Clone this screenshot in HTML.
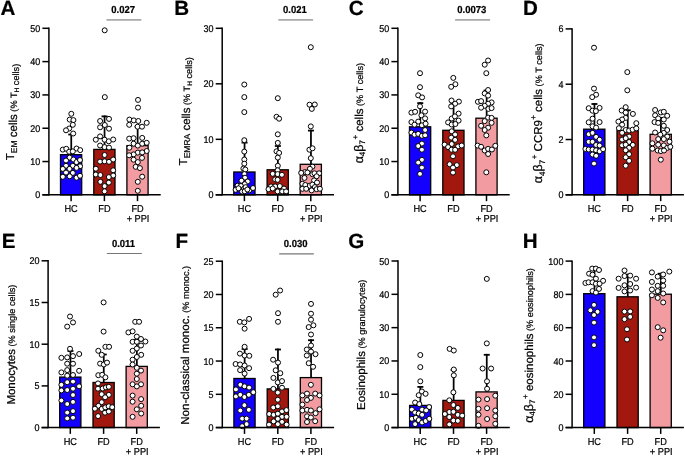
<!DOCTYPE html>
<html><head><meta charset="utf-8"><style>
html,body{margin:0;padding:0;background:#fff;}
svg{display:block;}
text{stroke:#000;stroke-width:0.22;}
svg{will-change:transform;text-rendering:geometricPrecision;font-family:"Liberation Sans",sans-serif;}
circle{fill:#fff;stroke:#000;stroke-width:1.0;}
</style></head><body>
<svg width="685" height="456" viewBox="0 0 685 456">
<line x1="71.25" y1="154.70" x2="71.25" y2="133.60" stroke="#000" stroke-width="1.75"/>
<line x1="68.25" y1="134.50" x2="74.25" y2="134.50" stroke="#000" stroke-width="1.8"/>
<rect x="60.50" y="154.70" width="21.20" height="40.15" fill="rgb(20,0,255)" stroke="#000" stroke-width="1.3"/>
<line x1="104.55" y1="149.40" x2="104.55" y2="115.50" stroke="#000" stroke-width="1.75"/>
<line x1="101.55" y1="116.40" x2="107.55" y2="116.40" stroke="#000" stroke-width="1.8"/>
<rect x="93.80" y="149.40" width="21.20" height="45.45" fill="rgb(163,24,14)" stroke="#000" stroke-width="1.3"/>
<line x1="137.65" y1="145.60" x2="137.65" y2="125.60" stroke="#000" stroke-width="1.75"/>
<line x1="134.65" y1="126.50" x2="140.65" y2="126.50" stroke="#000" stroke-width="1.8"/>
<rect x="126.90" y="145.60" width="21.20" height="49.25" fill="rgb(242,155,160)" stroke="#000" stroke-width="1.3"/>
<circle cx="71.3" cy="113.8" r="2.5"/>
<circle cx="69.7" cy="119.6" r="2.5"/>
<circle cx="73.4" cy="120.1" r="2.5"/>
<circle cx="72.8" cy="124.8" r="2.5"/>
<circle cx="69.2" cy="128.5" r="2.5"/>
<circle cx="66.0" cy="130.3" r="2.5"/>
<circle cx="73.2" cy="133.5" r="2.5"/>
<circle cx="62.8" cy="149.6" r="2.5"/>
<circle cx="66.3" cy="148.8" r="2.5"/>
<circle cx="76.5" cy="148.5" r="2.5"/>
<circle cx="80.2" cy="150.1" r="2.5"/>
<circle cx="69.2" cy="151.7" r="2.5"/>
<circle cx="72.8" cy="151.4" r="2.5"/>
<circle cx="69.7" cy="157.6" r="2.5"/>
<circle cx="73.4" cy="159.5" r="2.5"/>
<circle cx="66.0" cy="160.5" r="2.5"/>
<circle cx="76.5" cy="162.1" r="2.5"/>
<circle cx="80.0" cy="160.0" r="2.5"/>
<circle cx="66.0" cy="165.8" r="2.5"/>
<circle cx="72.8" cy="165.8" r="2.5"/>
<circle cx="80.0" cy="166.3" r="2.5"/>
<circle cx="76.5" cy="167.9" r="2.5"/>
<circle cx="62.8" cy="168.9" r="2.5"/>
<circle cx="69.5" cy="168.9" r="2.5"/>
<circle cx="66.0" cy="172.6" r="2.5"/>
<circle cx="72.8" cy="172.9" r="2.5"/>
<circle cx="62.8" cy="176.8" r="2.5"/>
<circle cx="69.7" cy="176.3" r="2.5"/>
<circle cx="76.5" cy="177.7" r="2.5"/>
<circle cx="80.0" cy="175.8" r="2.5"/>
<circle cx="104.7" cy="30.3" r="2.5"/>
<circle cx="104.8" cy="97.1" r="2.5"/>
<circle cx="109.0" cy="118.9" r="2.5"/>
<circle cx="100.1" cy="121.0" r="2.5"/>
<circle cx="104.8" cy="125.0" r="2.5"/>
<circle cx="100.1" cy="127.3" r="2.5"/>
<circle cx="109.0" cy="128.7" r="2.5"/>
<circle cx="100.1" cy="136.4" r="2.5"/>
<circle cx="95.8" cy="139.7" r="2.5"/>
<circle cx="104.6" cy="139.7" r="2.5"/>
<circle cx="108.8" cy="141.3" r="2.5"/>
<circle cx="113.2" cy="139.5" r="2.5"/>
<circle cx="100.1" cy="145.5" r="2.5"/>
<circle cx="104.6" cy="147.1" r="2.5"/>
<circle cx="109.0" cy="147.6" r="2.5"/>
<circle cx="104.6" cy="155.0" r="2.5"/>
<circle cx="100.1" cy="161.6" r="2.5"/>
<circle cx="104.6" cy="161.3" r="2.5"/>
<circle cx="109.0" cy="161.8" r="2.5"/>
<circle cx="113.2" cy="159.5" r="2.5"/>
<circle cx="95.8" cy="168.7" r="2.5"/>
<circle cx="113.2" cy="170.3" r="2.5"/>
<circle cx="95.8" cy="174.5" r="2.5"/>
<circle cx="100.4" cy="175.0" r="2.5"/>
<circle cx="113.2" cy="175.5" r="2.5"/>
<circle cx="108.8" cy="177.1" r="2.5"/>
<circle cx="100.4" cy="181.8" r="2.5"/>
<circle cx="108.8" cy="182.6" r="2.5"/>
<circle cx="104.6" cy="186.1" r="2.5"/>
<circle cx="104.6" cy="191.3" r="2.5"/>
<circle cx="138.0" cy="99.9" r="2.5"/>
<circle cx="138.0" cy="107.6" r="2.5"/>
<circle cx="129.4" cy="119.6" r="2.5"/>
<circle cx="133.8" cy="120.4" r="2.5"/>
<circle cx="138.3" cy="121.0" r="2.5"/>
<circle cx="146.7" cy="122.8" r="2.5"/>
<circle cx="129.2" cy="124.8" r="2.5"/>
<circle cx="137.6" cy="126.7" r="2.5"/>
<circle cx="142.0" cy="126.7" r="2.5"/>
<circle cx="129.2" cy="138.6" r="2.5"/>
<circle cx="133.6" cy="138.2" r="2.5"/>
<circle cx="142.2" cy="137.9" r="2.5"/>
<circle cx="133.6" cy="143.7" r="2.5"/>
<circle cx="137.8" cy="145.6" r="2.5"/>
<circle cx="142.2" cy="143.7" r="2.5"/>
<circle cx="146.7" cy="142.8" r="2.5"/>
<circle cx="129.4" cy="147.7" r="2.5"/>
<circle cx="146.7" cy="151.0" r="2.5"/>
<circle cx="137.8" cy="152.6" r="2.5"/>
<circle cx="142.2" cy="152.4" r="2.5"/>
<circle cx="133.6" cy="154.4" r="2.5"/>
<circle cx="129.2" cy="155.3" r="2.5"/>
<circle cx="142.0" cy="157.9" r="2.5"/>
<circle cx="133.6" cy="159.7" r="2.5"/>
<circle cx="137.8" cy="162.1" r="2.5"/>
<circle cx="135.7" cy="166.8" r="2.5"/>
<circle cx="139.9" cy="168.1" r="2.5"/>
<circle cx="142.2" cy="176.7" r="2.5"/>
<circle cx="137.8" cy="181.8" r="2.5"/>
<circle cx="137.8" cy="190.8" r="2.5"/>
<line x1="48.90" y1="27.60" x2="48.90" y2="195.55" stroke="#000" stroke-width="1.5"/>
<line x1="42.40" y1="194.85" x2="160.70" y2="194.85" stroke="#000" stroke-width="1.5"/>
<line x1="42.40" y1="194.85" x2="48.90" y2="194.85" stroke="#000" stroke-width="1.5"/>
<text transform="translate(40.20,198.35) scale(1,1.09)" font-size="9" text-anchor="end" font-weight="normal" >0</text>
<line x1="42.40" y1="161.54" x2="48.90" y2="161.54" stroke="#000" stroke-width="1.5"/>
<text transform="translate(40.20,165.04) scale(1,1.09)" font-size="9" text-anchor="end" font-weight="normal" >10</text>
<line x1="42.40" y1="128.23" x2="48.90" y2="128.23" stroke="#000" stroke-width="1.5"/>
<text transform="translate(40.20,131.73) scale(1,1.09)" font-size="9" text-anchor="end" font-weight="normal" >20</text>
<line x1="42.40" y1="94.92" x2="48.90" y2="94.92" stroke="#000" stroke-width="1.5"/>
<text transform="translate(40.20,98.42) scale(1,1.09)" font-size="9" text-anchor="end" font-weight="normal" >30</text>
<line x1="42.40" y1="61.61" x2="48.90" y2="61.61" stroke="#000" stroke-width="1.5"/>
<text transform="translate(40.20,65.11) scale(1,1.09)" font-size="9" text-anchor="end" font-weight="normal" >40</text>
<line x1="42.40" y1="28.30" x2="48.90" y2="28.30" stroke="#000" stroke-width="1.5"/>
<text transform="translate(40.20,31.80) scale(1,1.09)" font-size="9" text-anchor="end" font-weight="normal" >50</text>
<line x1="71.10" y1="194.85" x2="71.10" y2="201.15" stroke="#000" stroke-width="1.5"/>
<text transform="translate(71.10,212.35) scale(1,1.09)" font-size="9.2" text-anchor="middle" font-weight="normal" >HC</text>
<line x1="104.40" y1="194.85" x2="104.40" y2="201.15" stroke="#000" stroke-width="1.5"/>
<text transform="translate(104.40,212.35) scale(1,1.09)" font-size="9.2" text-anchor="middle" font-weight="normal" >FD</text>
<line x1="137.50" y1="194.85" x2="137.50" y2="201.15" stroke="#000" stroke-width="1.5"/>
<text transform="translate(137.50,212.35) scale(1,1.09)" font-size="9.2" text-anchor="middle" font-weight="normal" >FD</text>
<text transform="translate(138.00,222.35) scale(1,1.09)" font-size="9.2" text-anchor="middle" font-weight="normal" >+ PPI</text>
<text x="0.50" y="15.40" font-size="20.6" text-anchor="start" font-weight="bold" >A</text>
<line x1="106.50" y1="19.90" x2="141.40" y2="19.90" stroke="#aaa" stroke-width="1.6"/>
<text transform="translate(123.15,12.90) scale(1,1.07)" font-size="9.5" text-anchor="middle" font-weight="bold" >0.027</text>
<text transform="translate(13.7,111.95) rotate(-90)" text-anchor="middle" font-size="11.5">T<tspan font-size="8.5" dy="2.8">EM</tspan><tspan dy="-2.8"></tspan> cells<tspan font-size="9.2"> (% T<tspan font-size="6.5" dy="2">H</tspan><tspan dy="-2"></tspan> cells)</tspan></text>
<line x1="244.55" y1="172.00" x2="244.55" y2="141.70" stroke="#000" stroke-width="1.75"/>
<line x1="241.55" y1="142.60" x2="247.55" y2="142.60" stroke="#000" stroke-width="1.8"/>
<rect x="233.80" y="172.00" width="21.20" height="22.85" fill="rgb(20,0,255)" stroke="#000" stroke-width="1.3"/>
<line x1="277.85" y1="169.80" x2="277.85" y2="145.10" stroke="#000" stroke-width="1.75"/>
<line x1="274.85" y1="146.00" x2="280.85" y2="146.00" stroke="#000" stroke-width="1.8"/>
<rect x="267.10" y="169.80" width="21.20" height="25.05" fill="rgb(163,24,14)" stroke="#000" stroke-width="1.3"/>
<line x1="310.95" y1="164.30" x2="310.95" y2="129.70" stroke="#000" stroke-width="1.75"/>
<line x1="307.95" y1="130.60" x2="313.95" y2="130.60" stroke="#000" stroke-width="1.8"/>
<rect x="300.20" y="164.30" width="21.20" height="30.55" fill="rgb(242,155,160)" stroke="#000" stroke-width="1.3"/>
<circle cx="244.3" cy="84.5" r="2.5"/>
<circle cx="244.3" cy="97.1" r="2.5"/>
<circle cx="244.3" cy="112.1" r="2.5"/>
<circle cx="244.3" cy="140.2" r="2.5"/>
<circle cx="244.3" cy="151.6" r="2.5"/>
<circle cx="244.3" cy="159.5" r="2.5"/>
<circle cx="244.3" cy="163.7" r="2.5"/>
<circle cx="243.4" cy="168.5" r="2.5"/>
<circle cx="245.3" cy="169.5" r="2.5"/>
<circle cx="244.4" cy="174.1" r="2.5"/>
<circle cx="245.0" cy="177.7" r="2.5"/>
<circle cx="241.5" cy="180.7" r="2.5"/>
<circle cx="247.7" cy="181.5" r="2.5"/>
<circle cx="244.7" cy="184.2" r="2.5"/>
<circle cx="237.6" cy="185.7" r="2.5"/>
<circle cx="240.9" cy="186.0" r="2.5"/>
<circle cx="235.6" cy="189.8" r="2.5"/>
<circle cx="238.5" cy="188.3" r="2.5"/>
<circle cx="243.8" cy="188.9" r="2.5"/>
<circle cx="245.6" cy="187.2" r="2.5"/>
<circle cx="249.2" cy="190.4" r="2.5"/>
<circle cx="253.0" cy="188.0" r="2.5"/>
<circle cx="242.1" cy="191.6" r="2.5"/>
<circle cx="244.7" cy="191.3" r="2.5"/>
<circle cx="247.4" cy="189.5" r="2.5"/>
<circle cx="277.8" cy="98.2" r="2.5"/>
<circle cx="276.5" cy="116.8" r="2.5"/>
<circle cx="279.1" cy="118.7" r="2.5"/>
<circle cx="277.8" cy="134.3" r="2.5"/>
<circle cx="277.8" cy="142.9" r="2.5"/>
<circle cx="276.5" cy="151.3" r="2.5"/>
<circle cx="279.1" cy="152.9" r="2.5"/>
<circle cx="277.8" cy="157.6" r="2.5"/>
<circle cx="277.8" cy="165.8" r="2.5"/>
<circle cx="277.6" cy="170.3" r="2.5"/>
<circle cx="272.7" cy="173.8" r="2.5"/>
<circle cx="277.6" cy="174.1" r="2.5"/>
<circle cx="281.9" cy="174.8" r="2.5"/>
<circle cx="275.2" cy="179.4" r="2.5"/>
<circle cx="277.6" cy="179.8" r="2.5"/>
<circle cx="271.0" cy="186.4" r="2.5"/>
<circle cx="275.2" cy="186.4" r="2.5"/>
<circle cx="279.8" cy="186.1" r="2.5"/>
<circle cx="268.5" cy="189.2" r="2.5"/>
<circle cx="272.7" cy="188.5" r="2.5"/>
<circle cx="284.0" cy="188.5" r="2.5"/>
<circle cx="277.6" cy="191.4" r="2.5"/>
<circle cx="282.2" cy="191.4" r="2.5"/>
<circle cx="286.1" cy="191.4" r="2.5"/>
<circle cx="310.8" cy="47.2" r="2.5"/>
<circle cx="309.5" cy="104.7" r="2.5"/>
<circle cx="314.8" cy="104.5" r="2.5"/>
<circle cx="311.8" cy="108.9" r="2.5"/>
<circle cx="310.8" cy="126.4" r="2.5"/>
<circle cx="309.4" cy="149.7" r="2.5"/>
<circle cx="312.5" cy="148.3" r="2.5"/>
<circle cx="310.8" cy="158.2" r="2.5"/>
<circle cx="312.4" cy="166.7" r="2.5"/>
<circle cx="309.9" cy="168.8" r="2.5"/>
<circle cx="304.9" cy="172.1" r="2.5"/>
<circle cx="301.2" cy="172.9" r="2.5"/>
<circle cx="307.4" cy="172.5" r="2.5"/>
<circle cx="312.4" cy="174.2" r="2.5"/>
<circle cx="314.5" cy="173.3" r="2.5"/>
<circle cx="319.1" cy="173.3" r="2.5"/>
<circle cx="316.6" cy="176.3" r="2.5"/>
<circle cx="304.5" cy="177.9" r="2.5"/>
<circle cx="314.1" cy="180.4" r="2.5"/>
<circle cx="317.0" cy="182.5" r="2.5"/>
<circle cx="302.4" cy="183.8" r="2.5"/>
<circle cx="309.5" cy="185.8" r="2.5"/>
<circle cx="312.4" cy="184.6" r="2.5"/>
<circle cx="305.3" cy="185.0" r="2.5"/>
<circle cx="314.9" cy="187.1" r="2.5"/>
<circle cx="302.4" cy="188.8" r="2.5"/>
<circle cx="306.2" cy="188.8" r="2.5"/>
<circle cx="311.6" cy="190.4" r="2.5"/>
<circle cx="316.6" cy="189.2" r="2.5"/>
<circle cx="319.9" cy="188.8" r="2.5"/>
<line x1="222.20" y1="27.60" x2="222.20" y2="195.55" stroke="#000" stroke-width="1.5"/>
<line x1="215.70" y1="194.85" x2="334.00" y2="194.85" stroke="#000" stroke-width="1.5"/>
<line x1="215.70" y1="194.85" x2="222.20" y2="194.85" stroke="#000" stroke-width="1.5"/>
<text transform="translate(213.50,198.35) scale(1,1.09)" font-size="9" text-anchor="end" font-weight="normal" >0</text>
<line x1="215.70" y1="139.33" x2="222.20" y2="139.33" stroke="#000" stroke-width="1.5"/>
<text transform="translate(213.50,142.83) scale(1,1.09)" font-size="9" text-anchor="end" font-weight="normal" >10</text>
<line x1="215.70" y1="83.82" x2="222.20" y2="83.82" stroke="#000" stroke-width="1.5"/>
<text transform="translate(213.50,87.32) scale(1,1.09)" font-size="9" text-anchor="end" font-weight="normal" >20</text>
<line x1="215.70" y1="28.30" x2="222.20" y2="28.30" stroke="#000" stroke-width="1.5"/>
<text transform="translate(213.50,31.80) scale(1,1.09)" font-size="9" text-anchor="end" font-weight="normal" >30</text>
<line x1="244.40" y1="194.85" x2="244.40" y2="201.15" stroke="#000" stroke-width="1.5"/>
<text transform="translate(244.40,212.35) scale(1,1.09)" font-size="9.2" text-anchor="middle" font-weight="normal" >HC</text>
<line x1="277.70" y1="194.85" x2="277.70" y2="201.15" stroke="#000" stroke-width="1.5"/>
<text transform="translate(277.70,212.35) scale(1,1.09)" font-size="9.2" text-anchor="middle" font-weight="normal" >FD</text>
<line x1="310.80" y1="194.85" x2="310.80" y2="201.15" stroke="#000" stroke-width="1.5"/>
<text transform="translate(310.80,212.35) scale(1,1.09)" font-size="9.2" text-anchor="middle" font-weight="normal" >FD</text>
<text transform="translate(311.30,222.35) scale(1,1.09)" font-size="9.2" text-anchor="middle" font-weight="normal" >+ PPI</text>
<text x="174.20" y="15.40" font-size="20.6" text-anchor="start" font-weight="bold" >B</text>
<line x1="278.30" y1="19.90" x2="313.10" y2="19.90" stroke="#aaa" stroke-width="1.6"/>
<text transform="translate(294.90,12.90) scale(1,1.07)" font-size="9.5" text-anchor="middle" font-weight="bold" >0.021</text>
<text transform="translate(187.3,111.25) rotate(-90)" text-anchor="middle" font-size="11.5">T<tspan font-size="8.5" dy="2.8">EMRA</tspan><tspan dy="-2.8"></tspan> cells<tspan font-size="9.2"> (% T<tspan font-size="6.5" dy="2">H</tspan><tspan dy="-2"></tspan> cells)</tspan></text>
<line x1="420.25" y1="126.80" x2="420.25" y2="102.20" stroke="#000" stroke-width="1.75"/>
<line x1="417.25" y1="103.10" x2="423.25" y2="103.10" stroke="#000" stroke-width="1.8"/>
<rect x="409.50" y="126.80" width="21.20" height="68.05" fill="rgb(20,0,255)" stroke="#000" stroke-width="1.3"/>
<line x1="453.55" y1="130.30" x2="453.55" y2="103.10" stroke="#000" stroke-width="1.75"/>
<line x1="450.55" y1="104.00" x2="456.55" y2="104.00" stroke="#000" stroke-width="1.8"/>
<rect x="442.80" y="130.30" width="21.20" height="64.55" fill="rgb(163,24,14)" stroke="#000" stroke-width="1.3"/>
<line x1="486.65" y1="118.20" x2="486.65" y2="89.60" stroke="#000" stroke-width="1.75"/>
<line x1="483.65" y1="90.50" x2="489.65" y2="90.50" stroke="#000" stroke-width="1.8"/>
<rect x="475.90" y="118.20" width="21.20" height="76.65" fill="rgb(242,155,160)" stroke="#000" stroke-width="1.3"/>
<circle cx="420.0" cy="73.2" r="2.5"/>
<circle cx="420.0" cy="87.2" r="2.5"/>
<circle cx="418.2" cy="95.3" r="2.5"/>
<circle cx="422.1" cy="97.4" r="2.5"/>
<circle cx="420.0" cy="106.3" r="2.5"/>
<circle cx="411.4" cy="112.6" r="2.5"/>
<circle cx="415.1" cy="111.8" r="2.5"/>
<circle cx="425.1" cy="111.6" r="2.5"/>
<circle cx="421.4" cy="115.3" r="2.5"/>
<circle cx="425.1" cy="118.4" r="2.5"/>
<circle cx="411.4" cy="122.1" r="2.5"/>
<circle cx="418.2" cy="121.6" r="2.5"/>
<circle cx="414.5" cy="124.7" r="2.5"/>
<circle cx="421.9" cy="125.3" r="2.5"/>
<circle cx="425.6" cy="123.7" r="2.5"/>
<circle cx="425.1" cy="130.0" r="2.5"/>
<circle cx="411.4" cy="132.6" r="2.5"/>
<circle cx="414.5" cy="134.7" r="2.5"/>
<circle cx="418.2" cy="133.9" r="2.5"/>
<circle cx="421.9" cy="135.8" r="2.5"/>
<circle cx="425.1" cy="135.3" r="2.5"/>
<circle cx="421.9" cy="143.6" r="2.5"/>
<circle cx="418.2" cy="146.0" r="2.5"/>
<circle cx="421.9" cy="149.7" r="2.5"/>
<circle cx="421.9" cy="159.8" r="2.5"/>
<circle cx="418.2" cy="162.6" r="2.5"/>
<circle cx="421.9" cy="167.6" r="2.5"/>
<circle cx="420.0" cy="173.9" r="2.5"/>
<circle cx="453.3" cy="77.9" r="2.5"/>
<circle cx="455.4" cy="84.2" r="2.5"/>
<circle cx="451.2" cy="86.8" r="2.5"/>
<circle cx="451.5" cy="100.5" r="2.5"/>
<circle cx="458.9" cy="101.6" r="2.5"/>
<circle cx="455.1" cy="103.7" r="2.5"/>
<circle cx="451.2" cy="106.4" r="2.5"/>
<circle cx="458.6" cy="113.6" r="2.5"/>
<circle cx="451.7" cy="118.5" r="2.5"/>
<circle cx="454.9" cy="116.4" r="2.5"/>
<circle cx="458.6" cy="120.6" r="2.5"/>
<circle cx="448.1" cy="122.4" r="2.5"/>
<circle cx="451.7" cy="124.5" r="2.5"/>
<circle cx="455.4" cy="124.0" r="2.5"/>
<circle cx="451.7" cy="131.3" r="2.5"/>
<circle cx="455.1" cy="134.5" r="2.5"/>
<circle cx="451.2" cy="137.6" r="2.5"/>
<circle cx="455.1" cy="139.9" r="2.5"/>
<circle cx="444.6" cy="144.6" r="2.5"/>
<circle cx="451.7" cy="144.0" r="2.5"/>
<circle cx="448.1" cy="147.1" r="2.5"/>
<circle cx="458.1" cy="146.4" r="2.5"/>
<circle cx="461.7" cy="145.5" r="2.5"/>
<circle cx="451.5" cy="149.7" r="2.5"/>
<circle cx="455.1" cy="149.8" r="2.5"/>
<circle cx="453.0" cy="156.3" r="2.5"/>
<circle cx="449.6" cy="164.2" r="2.5"/>
<circle cx="456.8" cy="165.1" r="2.5"/>
<circle cx="453.0" cy="167.6" r="2.5"/>
<circle cx="453.0" cy="172.6" r="2.5"/>
<circle cx="488.1" cy="60.5" r="2.5"/>
<circle cx="484.7" cy="64.7" r="2.5"/>
<circle cx="486.3" cy="73.2" r="2.5"/>
<circle cx="488.1" cy="90.0" r="2.5"/>
<circle cx="484.7" cy="93.4" r="2.5"/>
<circle cx="488.1" cy="95.6" r="2.5"/>
<circle cx="477.9" cy="101.8" r="2.5"/>
<circle cx="481.1" cy="101.1" r="2.5"/>
<circle cx="491.6" cy="102.4" r="2.5"/>
<circle cx="488.1" cy="103.7" r="2.5"/>
<circle cx="484.7" cy="105.8" r="2.5"/>
<circle cx="481.1" cy="107.7" r="2.5"/>
<circle cx="488.4" cy="108.9" r="2.5"/>
<circle cx="491.6" cy="108.1" r="2.5"/>
<circle cx="488.1" cy="117.6" r="2.5"/>
<circle cx="491.6" cy="117.9" r="2.5"/>
<circle cx="484.7" cy="121.1" r="2.5"/>
<circle cx="491.6" cy="122.8" r="2.5"/>
<circle cx="481.1" cy="125.8" r="2.5"/>
<circle cx="488.1" cy="127.7" r="2.5"/>
<circle cx="484.7" cy="130.0" r="2.5"/>
<circle cx="486.3" cy="135.4" r="2.5"/>
<circle cx="477.6" cy="145.6" r="2.5"/>
<circle cx="481.1" cy="146.8" r="2.5"/>
<circle cx="495.3" cy="145.8" r="2.5"/>
<circle cx="484.7" cy="150.5" r="2.5"/>
<circle cx="488.1" cy="148.9" r="2.5"/>
<circle cx="491.9" cy="149.5" r="2.5"/>
<circle cx="488.1" cy="154.0" r="2.5"/>
<circle cx="486.3" cy="172.3" r="2.5"/>
<line x1="397.90" y1="27.60" x2="397.90" y2="195.55" stroke="#000" stroke-width="1.5"/>
<line x1="391.40" y1="194.85" x2="509.70" y2="194.85" stroke="#000" stroke-width="1.5"/>
<line x1="391.40" y1="194.85" x2="397.90" y2="194.85" stroke="#000" stroke-width="1.5"/>
<text transform="translate(389.20,198.35) scale(1,1.09)" font-size="9" text-anchor="end" font-weight="normal" >0</text>
<line x1="391.40" y1="161.54" x2="397.90" y2="161.54" stroke="#000" stroke-width="1.5"/>
<text transform="translate(389.20,165.04) scale(1,1.09)" font-size="9" text-anchor="end" font-weight="normal" >10</text>
<line x1="391.40" y1="128.23" x2="397.90" y2="128.23" stroke="#000" stroke-width="1.5"/>
<text transform="translate(389.20,131.73) scale(1,1.09)" font-size="9" text-anchor="end" font-weight="normal" >20</text>
<line x1="391.40" y1="94.92" x2="397.90" y2="94.92" stroke="#000" stroke-width="1.5"/>
<text transform="translate(389.20,98.42) scale(1,1.09)" font-size="9" text-anchor="end" font-weight="normal" >30</text>
<line x1="391.40" y1="61.61" x2="397.90" y2="61.61" stroke="#000" stroke-width="1.5"/>
<text transform="translate(389.20,65.11) scale(1,1.09)" font-size="9" text-anchor="end" font-weight="normal" >40</text>
<line x1="391.40" y1="28.30" x2="397.90" y2="28.30" stroke="#000" stroke-width="1.5"/>
<text transform="translate(389.20,31.80) scale(1,1.09)" font-size="9" text-anchor="end" font-weight="normal" >50</text>
<line x1="420.10" y1="194.85" x2="420.10" y2="201.15" stroke="#000" stroke-width="1.5"/>
<text transform="translate(420.10,212.35) scale(1,1.09)" font-size="9.2" text-anchor="middle" font-weight="normal" >HC</text>
<line x1="453.40" y1="194.85" x2="453.40" y2="201.15" stroke="#000" stroke-width="1.5"/>
<text transform="translate(453.40,212.35) scale(1,1.09)" font-size="9.2" text-anchor="middle" font-weight="normal" >FD</text>
<line x1="486.50" y1="194.85" x2="486.50" y2="201.15" stroke="#000" stroke-width="1.5"/>
<text transform="translate(486.50,212.35) scale(1,1.09)" font-size="9.2" text-anchor="middle" font-weight="normal" >FD</text>
<text transform="translate(487.00,222.35) scale(1,1.09)" font-size="9.2" text-anchor="middle" font-weight="normal" >+ PPI</text>
<text x="348.80" y="15.40" font-size="20.6" text-anchor="start" font-weight="bold" >C</text>
<line x1="455.10" y1="19.90" x2="490.10" y2="19.90" stroke="#aaa" stroke-width="1.6"/>
<text transform="translate(471.80,12.90) scale(1,1.07)" font-size="9.5" text-anchor="middle" font-weight="bold" >0.0073</text>
<text transform="translate(362.5,113.15) rotate(-90)" text-anchor="middle" font-size="11.5"><tspan font-size="12.5">α</tspan><tspan font-size="8" dy="2.6">4</tspan><tspan dy="-2.6" font-size="12.5">β</tspan><tspan font-size="8" dy="2.6">7</tspan><tspan font-size="8" dx="0.6" dy="-7.6">+</tspan><tspan dy="5"> </tspan>cells<tspan font-size="9.2"> (% T cells)</tspan></text>
<line x1="594.45" y1="129.20" x2="594.45" y2="103.10" stroke="#000" stroke-width="1.75"/>
<line x1="591.45" y1="104.00" x2="597.45" y2="104.00" stroke="#000" stroke-width="1.8"/>
<rect x="583.70" y="129.20" width="21.20" height="65.65" fill="rgb(20,0,255)" stroke="#000" stroke-width="1.3"/>
<line x1="627.75" y1="130.50" x2="627.75" y2="109.40" stroke="#000" stroke-width="1.75"/>
<line x1="624.75" y1="110.30" x2="630.75" y2="110.30" stroke="#000" stroke-width="1.8"/>
<rect x="617.00" y="130.50" width="21.20" height="64.35" fill="rgb(163,24,14)" stroke="#000" stroke-width="1.3"/>
<line x1="660.85" y1="134.30" x2="660.85" y2="117.10" stroke="#000" stroke-width="1.75"/>
<line x1="657.85" y1="118.00" x2="663.85" y2="118.00" stroke="#000" stroke-width="1.8"/>
<rect x="650.10" y="134.30" width="21.20" height="60.55" fill="rgb(242,155,160)" stroke="#000" stroke-width="1.3"/>
<circle cx="594.0" cy="47.7" r="2.5"/>
<circle cx="594.0" cy="88.6" r="2.5"/>
<circle cx="596.1" cy="94.7" r="2.5"/>
<circle cx="592.2" cy="97.1" r="2.5"/>
<circle cx="588.7" cy="108.2" r="2.5"/>
<circle cx="599.6" cy="107.9" r="2.5"/>
<circle cx="592.5" cy="110.7" r="2.5"/>
<circle cx="595.9" cy="111.1" r="2.5"/>
<circle cx="592.5" cy="118.7" r="2.5"/>
<circle cx="588.7" cy="122.3" r="2.5"/>
<circle cx="599.6" cy="122.1" r="2.5"/>
<circle cx="592.5" cy="126.3" r="2.5"/>
<circle cx="596.1" cy="127.6" r="2.5"/>
<circle cx="588.7" cy="134.2" r="2.5"/>
<circle cx="592.5" cy="132.9" r="2.5"/>
<circle cx="596.1" cy="136.9" r="2.5"/>
<circle cx="599.6" cy="139.7" r="2.5"/>
<circle cx="588.7" cy="141.8" r="2.5"/>
<circle cx="592.5" cy="141.8" r="2.5"/>
<circle cx="596.1" cy="145.0" r="2.5"/>
<circle cx="599.6" cy="145.5" r="2.5"/>
<circle cx="585.4" cy="148.9" r="2.5"/>
<circle cx="588.7" cy="149.5" r="2.5"/>
<circle cx="592.5" cy="149.5" r="2.5"/>
<circle cx="596.1" cy="150.3" r="2.5"/>
<circle cx="599.6" cy="151.3" r="2.5"/>
<circle cx="603.1" cy="149.2" r="2.5"/>
<circle cx="592.5" cy="154.5" r="2.5"/>
<circle cx="596.1" cy="155.8" r="2.5"/>
<circle cx="594.0" cy="163.6" r="2.5"/>
<circle cx="627.3" cy="72.1" r="2.5"/>
<circle cx="627.3" cy="90.3" r="2.5"/>
<circle cx="625.7" cy="107.2" r="2.5"/>
<circle cx="621.7" cy="110.5" r="2.5"/>
<circle cx="625.7" cy="112.6" r="2.5"/>
<circle cx="632.9" cy="113.9" r="2.5"/>
<circle cx="625.7" cy="117.9" r="2.5"/>
<circle cx="622.1" cy="119.5" r="2.5"/>
<circle cx="618.4" cy="121.6" r="2.5"/>
<circle cx="622.1" cy="124.7" r="2.5"/>
<circle cx="636.3" cy="123.2" r="2.5"/>
<circle cx="618.9" cy="128.2" r="2.5"/>
<circle cx="625.7" cy="130.0" r="2.5"/>
<circle cx="629.1" cy="130.5" r="2.5"/>
<circle cx="632.6" cy="129.7" r="2.5"/>
<circle cx="636.3" cy="128.4" r="2.5"/>
<circle cx="622.1" cy="132.8" r="2.5"/>
<circle cx="625.7" cy="137.4" r="2.5"/>
<circle cx="629.1" cy="136.5" r="2.5"/>
<circle cx="622.1" cy="139.6" r="2.5"/>
<circle cx="625.7" cy="138.2" r="2.5"/>
<circle cx="629.1" cy="142.0" r="2.5"/>
<circle cx="622.1" cy="145.3" r="2.5"/>
<circle cx="625.7" cy="144.7" r="2.5"/>
<circle cx="632.8" cy="144.9" r="2.5"/>
<circle cx="629.1" cy="147.8" r="2.5"/>
<circle cx="625.7" cy="150.3" r="2.5"/>
<circle cx="629.1" cy="154.2" r="2.5"/>
<circle cx="625.7" cy="157.3" r="2.5"/>
<circle cx="629.1" cy="160.8" r="2.5"/>
<circle cx="625.7" cy="165.7" r="2.5"/>
<circle cx="655.1" cy="110.0" r="2.5"/>
<circle cx="660.8" cy="112.4" r="2.5"/>
<circle cx="663.8" cy="111.8" r="2.5"/>
<circle cx="655.1" cy="115.3" r="2.5"/>
<circle cx="667.2" cy="115.8" r="2.5"/>
<circle cx="658.2" cy="118.4" r="2.5"/>
<circle cx="663.8" cy="119.5" r="2.5"/>
<circle cx="654.5" cy="122.1" r="2.5"/>
<circle cx="658.2" cy="122.9" r="2.5"/>
<circle cx="663.8" cy="125.8" r="2.5"/>
<circle cx="667.2" cy="130.0" r="2.5"/>
<circle cx="655.1" cy="132.5" r="2.5"/>
<circle cx="663.8" cy="132.9" r="2.5"/>
<circle cx="660.3" cy="134.7" r="2.5"/>
<circle cx="667.2" cy="136.6" r="2.5"/>
<circle cx="658.2" cy="139.1" r="2.5"/>
<circle cx="663.8" cy="139.1" r="2.5"/>
<circle cx="669.5" cy="141.7" r="2.5"/>
<circle cx="652.4" cy="143.3" r="2.5"/>
<circle cx="658.2" cy="144.7" r="2.5"/>
<circle cx="663.8" cy="145.4" r="2.5"/>
<circle cx="652.4" cy="148.7" r="2.5"/>
<circle cx="667.2" cy="147.9" r="2.5"/>
<circle cx="670.3" cy="146.8" r="2.5"/>
<circle cx="657.7" cy="150.5" r="2.5"/>
<circle cx="660.8" cy="151.1" r="2.5"/>
<circle cx="664.0" cy="150.5" r="2.5"/>
<circle cx="660.8" cy="159.7" r="2.5"/>
<line x1="572.10" y1="28.20" x2="572.10" y2="195.55" stroke="#000" stroke-width="1.5"/>
<line x1="565.60" y1="194.85" x2="683.90" y2="194.85" stroke="#000" stroke-width="1.5"/>
<line x1="565.60" y1="194.85" x2="572.10" y2="194.85" stroke="#000" stroke-width="1.5"/>
<text transform="translate(563.40,198.35) scale(1,1.09)" font-size="9" text-anchor="end" font-weight="normal" >0</text>
<line x1="565.60" y1="139.53" x2="572.10" y2="139.53" stroke="#000" stroke-width="1.5"/>
<text transform="translate(563.40,143.03) scale(1,1.09)" font-size="9" text-anchor="end" font-weight="normal" >2</text>
<line x1="565.60" y1="84.22" x2="572.10" y2="84.22" stroke="#000" stroke-width="1.5"/>
<text transform="translate(563.40,87.72) scale(1,1.09)" font-size="9" text-anchor="end" font-weight="normal" >4</text>
<line x1="565.60" y1="28.90" x2="572.10" y2="28.90" stroke="#000" stroke-width="1.5"/>
<text transform="translate(563.40,32.40) scale(1,1.09)" font-size="9" text-anchor="end" font-weight="normal" >6</text>
<line x1="594.30" y1="194.85" x2="594.30" y2="201.15" stroke="#000" stroke-width="1.5"/>
<text transform="translate(594.30,212.35) scale(1,1.09)" font-size="9.2" text-anchor="middle" font-weight="normal" >HC</text>
<line x1="627.60" y1="194.85" x2="627.60" y2="201.15" stroke="#000" stroke-width="1.5"/>
<text transform="translate(627.60,212.35) scale(1,1.09)" font-size="9.2" text-anchor="middle" font-weight="normal" >FD</text>
<line x1="660.70" y1="194.85" x2="660.70" y2="201.15" stroke="#000" stroke-width="1.5"/>
<text transform="translate(660.70,212.35) scale(1,1.09)" font-size="9.2" text-anchor="middle" font-weight="normal" >FD</text>
<text transform="translate(661.20,222.35) scale(1,1.09)" font-size="9.2" text-anchor="middle" font-weight="normal" >+ PPI</text>
<text x="523.10" y="15.40" font-size="20.6" text-anchor="start" font-weight="bold" >D</text>
<text transform="translate(542.4,113.3) rotate(-90)" text-anchor="middle" font-size="11.5"><tspan font-size="12.5">α</tspan><tspan font-size="8" dy="2.6">4</tspan><tspan dy="-2.6" font-size="12.5">β</tspan><tspan font-size="8" dy="2.6">7</tspan><tspan font-size="8" dx="0.6" dy="-7.6">+</tspan><tspan dy="5"> </tspan>CCR9<tspan font-size="8" dx="0.3" dy="-6.3">+</tspan><tspan dy="6.3"> cells</tspan><tspan font-size="9.2"> (% T cells)</tspan></text>
<line x1="70.45" y1="377.10" x2="70.45" y2="350.10" stroke="#000" stroke-width="1.75"/>
<line x1="67.45" y1="351.00" x2="73.45" y2="351.00" stroke="#000" stroke-width="1.8"/>
<rect x="59.70" y="377.10" width="21.20" height="50.50" fill="rgb(20,0,255)" stroke="#000" stroke-width="1.3"/>
<line x1="103.75" y1="382.50" x2="103.75" y2="353.60" stroke="#000" stroke-width="1.75"/>
<line x1="100.75" y1="354.50" x2="106.75" y2="354.50" stroke="#000" stroke-width="1.8"/>
<rect x="93.00" y="382.50" width="21.20" height="45.10" fill="rgb(163,24,14)" stroke="#000" stroke-width="1.3"/>
<line x1="136.85" y1="366.40" x2="136.85" y2="339.10" stroke="#000" stroke-width="1.75"/>
<line x1="133.85" y1="340.00" x2="139.85" y2="340.00" stroke="#000" stroke-width="1.8"/>
<rect x="126.10" y="366.40" width="21.20" height="61.20" fill="rgb(242,155,160)" stroke="#000" stroke-width="1.3"/>
<circle cx="70.0" cy="316.5" r="2.5"/>
<circle cx="73.0" cy="322.4" r="2.5"/>
<circle cx="67.2" cy="326.6" r="2.5"/>
<circle cx="70.0" cy="348.8" r="2.5"/>
<circle cx="79.2" cy="354.0" r="2.5"/>
<circle cx="61.4" cy="357.8" r="2.5"/>
<circle cx="67.2" cy="357.4" r="2.5"/>
<circle cx="73.0" cy="356.1" r="2.5"/>
<circle cx="67.2" cy="363.7" r="2.5"/>
<circle cx="73.0" cy="363.7" r="2.5"/>
<circle cx="67.2" cy="370.1" r="2.5"/>
<circle cx="61.4" cy="372.4" r="2.5"/>
<circle cx="79.1" cy="370.8" r="2.5"/>
<circle cx="67.2" cy="375.7" r="2.5"/>
<circle cx="73.0" cy="375.0" r="2.5"/>
<circle cx="67.2" cy="382.2" r="2.5"/>
<circle cx="73.0" cy="381.6" r="2.5"/>
<circle cx="61.4" cy="384.8" r="2.5"/>
<circle cx="79.1" cy="386.3" r="2.5"/>
<circle cx="61.4" cy="390.4" r="2.5"/>
<circle cx="67.2" cy="390.0" r="2.5"/>
<circle cx="73.0" cy="388.7" r="2.5"/>
<circle cx="73.0" cy="395.0" r="2.5"/>
<circle cx="61.4" cy="400.5" r="2.5"/>
<circle cx="67.2" cy="404.0" r="2.5"/>
<circle cx="73.0" cy="401.9" r="2.5"/>
<circle cx="67.2" cy="412.6" r="2.5"/>
<circle cx="73.0" cy="411.1" r="2.5"/>
<circle cx="67.2" cy="418.4" r="2.5"/>
<circle cx="73.0" cy="417.7" r="2.5"/>
<circle cx="103.6" cy="302.4" r="2.5"/>
<circle cx="103.6" cy="331.6" r="2.5"/>
<circle cx="105.4" cy="346.8" r="2.5"/>
<circle cx="109.1" cy="346.8" r="2.5"/>
<circle cx="98.3" cy="350.8" r="2.5"/>
<circle cx="101.7" cy="354.8" r="2.5"/>
<circle cx="100.1" cy="363.6" r="2.5"/>
<circle cx="103.8" cy="364.5" r="2.5"/>
<circle cx="107.0" cy="362.6" r="2.5"/>
<circle cx="98.3" cy="375.2" r="2.5"/>
<circle cx="102.2" cy="374.8" r="2.5"/>
<circle cx="105.4" cy="377.3" r="2.5"/>
<circle cx="98.0" cy="383.4" r="2.5"/>
<circle cx="98.0" cy="388.7" r="2.5"/>
<circle cx="102.7" cy="388.5" r="2.5"/>
<circle cx="105.9" cy="387.4" r="2.5"/>
<circle cx="108.8" cy="386.8" r="2.5"/>
<circle cx="101.7" cy="394.2" r="2.5"/>
<circle cx="108.8" cy="394.8" r="2.5"/>
<circle cx="105.1" cy="397.3" r="2.5"/>
<circle cx="101.7" cy="402.2" r="2.5"/>
<circle cx="98.4" cy="405.8" r="2.5"/>
<circle cx="94.9" cy="408.7" r="2.5"/>
<circle cx="101.7" cy="408.9" r="2.5"/>
<circle cx="105.3" cy="407.4" r="2.5"/>
<circle cx="108.7" cy="406.3" r="2.5"/>
<circle cx="112.2" cy="407.2" r="2.5"/>
<circle cx="105.0" cy="412.7" r="2.5"/>
<circle cx="108.8" cy="411.5" r="2.5"/>
<circle cx="98.1" cy="416.1" r="2.5"/>
<circle cx="135.2" cy="321.8" r="2.5"/>
<circle cx="139.1" cy="321.8" r="2.5"/>
<circle cx="128.4" cy="332.4" r="2.5"/>
<circle cx="132.6" cy="331.3" r="2.5"/>
<circle cx="136.8" cy="336.6" r="2.5"/>
<circle cx="141.0" cy="339.0" r="2.5"/>
<circle cx="132.6" cy="341.8" r="2.5"/>
<circle cx="136.8" cy="341.8" r="2.5"/>
<circle cx="145.4" cy="341.5" r="2.5"/>
<circle cx="141.0" cy="345.5" r="2.5"/>
<circle cx="136.8" cy="348.5" r="2.5"/>
<circle cx="132.6" cy="350.8" r="2.5"/>
<circle cx="141.2" cy="354.8" r="2.5"/>
<circle cx="136.8" cy="357.0" r="2.5"/>
<circle cx="132.6" cy="359.7" r="2.5"/>
<circle cx="132.6" cy="364.5" r="2.5"/>
<circle cx="136.8" cy="367.8" r="2.5"/>
<circle cx="141.0" cy="370.6" r="2.5"/>
<circle cx="136.8" cy="373.7" r="2.5"/>
<circle cx="136.8" cy="379.0" r="2.5"/>
<circle cx="132.6" cy="384.3" r="2.5"/>
<circle cx="141.0" cy="384.3" r="2.5"/>
<circle cx="136.8" cy="386.4" r="2.5"/>
<circle cx="132.6" cy="395.6" r="2.5"/>
<circle cx="141.1" cy="399.1" r="2.5"/>
<circle cx="132.6" cy="401.7" r="2.5"/>
<circle cx="141.2" cy="405.8" r="2.5"/>
<circle cx="136.8" cy="409.3" r="2.5"/>
<circle cx="141.2" cy="413.5" r="2.5"/>
<circle cx="132.6" cy="416.8" r="2.5"/>
<line x1="48.10" y1="260.10" x2="48.10" y2="428.30" stroke="#000" stroke-width="1.5"/>
<line x1="41.60" y1="427.60" x2="159.90" y2="427.60" stroke="#000" stroke-width="1.5"/>
<line x1="41.60" y1="427.60" x2="48.10" y2="427.60" stroke="#000" stroke-width="1.5"/>
<text transform="translate(39.40,431.10) scale(1,1.09)" font-size="9" text-anchor="end" font-weight="normal" >0</text>
<line x1="41.60" y1="385.90" x2="48.10" y2="385.90" stroke="#000" stroke-width="1.5"/>
<text transform="translate(39.40,389.40) scale(1,1.09)" font-size="9" text-anchor="end" font-weight="normal" >5</text>
<line x1="41.60" y1="344.20" x2="48.10" y2="344.20" stroke="#000" stroke-width="1.5"/>
<text transform="translate(39.40,347.70) scale(1,1.09)" font-size="9" text-anchor="end" font-weight="normal" >10</text>
<line x1="41.60" y1="302.50" x2="48.10" y2="302.50" stroke="#000" stroke-width="1.5"/>
<text transform="translate(39.40,306.00) scale(1,1.09)" font-size="9" text-anchor="end" font-weight="normal" >15</text>
<line x1="41.60" y1="260.80" x2="48.10" y2="260.80" stroke="#000" stroke-width="1.5"/>
<text transform="translate(39.40,264.30) scale(1,1.09)" font-size="9" text-anchor="end" font-weight="normal" >20</text>
<line x1="70.30" y1="427.60" x2="70.30" y2="433.90" stroke="#000" stroke-width="1.5"/>
<text transform="translate(70.30,445.10) scale(1,1.09)" font-size="9.2" text-anchor="middle" font-weight="normal" >HC</text>
<line x1="103.60" y1="427.60" x2="103.60" y2="433.90" stroke="#000" stroke-width="1.5"/>
<text transform="translate(103.60,445.10) scale(1,1.09)" font-size="9.2" text-anchor="middle" font-weight="normal" >FD</text>
<line x1="136.70" y1="427.60" x2="136.70" y2="433.90" stroke="#000" stroke-width="1.5"/>
<text transform="translate(136.70,445.10) scale(1,1.09)" font-size="9.2" text-anchor="middle" font-weight="normal" >FD</text>
<text transform="translate(137.20,455.10) scale(1,1.09)" font-size="9.2" text-anchor="middle" font-weight="normal" >+ PPI</text>
<text x="1.70" y="248.15" font-size="20.6" text-anchor="start" font-weight="bold" >E</text>
<line x1="106.80" y1="253.50" x2="141.80" y2="253.50" stroke="#767676" stroke-width="1.1"/>
<text transform="translate(123.50,246.80) scale(1,1.07)" font-size="9.5" text-anchor="middle" font-weight="bold" >0.011</text>
<text transform="translate(15.0,344.65) rotate(-90)" text-anchor="middle" font-size="11.5">Monocytes<tspan font-size="9.2"> (% single cells)</tspan></text>
<line x1="244.65" y1="378.50" x2="244.65" y2="348.10" stroke="#000" stroke-width="1.75"/>
<line x1="241.65" y1="349.00" x2="247.65" y2="349.00" stroke="#000" stroke-width="1.8"/>
<rect x="233.90" y="378.50" width="21.20" height="49.10" fill="rgb(20,0,255)" stroke="#000" stroke-width="1.3"/>
<line x1="277.95" y1="388.90" x2="277.95" y2="348.60" stroke="#000" stroke-width="1.75"/>
<line x1="274.95" y1="349.50" x2="280.95" y2="349.50" stroke="#000" stroke-width="1.8"/>
<rect x="267.20" y="388.90" width="21.20" height="38.70" fill="rgb(163,24,14)" stroke="#000" stroke-width="1.3"/>
<line x1="311.05" y1="377.60" x2="311.05" y2="339.30" stroke="#000" stroke-width="1.75"/>
<line x1="308.05" y1="340.20" x2="314.05" y2="340.20" stroke="#000" stroke-width="1.8"/>
<rect x="300.30" y="377.60" width="21.20" height="50.00" fill="rgb(242,155,160)" stroke="#000" stroke-width="1.3"/>
<circle cx="249.1" cy="318.9" r="2.5"/>
<circle cx="239.8" cy="321.8" r="2.5"/>
<circle cx="244.3" cy="322.4" r="2.5"/>
<circle cx="244.6" cy="328.7" r="2.5"/>
<circle cx="244.6" cy="346.8" r="2.5"/>
<circle cx="239.9" cy="353.6" r="2.5"/>
<circle cx="244.6" cy="355.5" r="2.5"/>
<circle cx="249.3" cy="355.8" r="2.5"/>
<circle cx="235.6" cy="364.0" r="2.5"/>
<circle cx="240.1" cy="364.5" r="2.5"/>
<circle cx="244.6" cy="365.5" r="2.5"/>
<circle cx="249.1" cy="368.2" r="2.5"/>
<circle cx="240.1" cy="370.1" r="2.5"/>
<circle cx="244.6" cy="373.6" r="2.5"/>
<circle cx="240.4" cy="384.8" r="2.5"/>
<circle cx="244.5" cy="386.3" r="2.5"/>
<circle cx="249.1" cy="387.6" r="2.5"/>
<circle cx="235.9" cy="389.4" r="2.5"/>
<circle cx="253.3" cy="392.2" r="2.5"/>
<circle cx="235.9" cy="396.4" r="2.5"/>
<circle cx="240.3" cy="394.8" r="2.5"/>
<circle cx="244.4" cy="397.0" r="2.5"/>
<circle cx="248.8" cy="394.8" r="2.5"/>
<circle cx="244.4" cy="405.2" r="2.5"/>
<circle cx="240.3" cy="410.5" r="2.5"/>
<circle cx="248.8" cy="409.8" r="2.5"/>
<circle cx="242.2" cy="418.6" r="2.5"/>
<circle cx="246.6" cy="418.6" r="2.5"/>
<circle cx="246.6" cy="424.1" r="2.5"/>
<circle cx="242.2" cy="426.2" r="2.5"/>
<circle cx="280.1" cy="290.5" r="2.5"/>
<circle cx="275.7" cy="294.7" r="2.5"/>
<circle cx="278.0" cy="313.2" r="2.5"/>
<circle cx="278.0" cy="321.8" r="2.5"/>
<circle cx="273.1" cy="359.7" r="2.5"/>
<circle cx="278.0" cy="362.6" r="2.5"/>
<circle cx="275.7" cy="370.3" r="2.5"/>
<circle cx="280.3" cy="373.2" r="2.5"/>
<circle cx="273.4" cy="377.9" r="2.5"/>
<circle cx="277.8" cy="382.4" r="2.5"/>
<circle cx="282.0" cy="381.1" r="2.5"/>
<circle cx="273.4" cy="388.9" r="2.5"/>
<circle cx="282.0" cy="387.7" r="2.5"/>
<circle cx="277.8" cy="392.6" r="2.5"/>
<circle cx="277.8" cy="399.7" r="2.5"/>
<circle cx="273.3" cy="407.5" r="2.5"/>
<circle cx="277.8" cy="406.3" r="2.5"/>
<circle cx="282.0" cy="411.4" r="2.5"/>
<circle cx="286.4" cy="410.1" r="2.5"/>
<circle cx="269.2" cy="414.0" r="2.5"/>
<circle cx="273.6" cy="414.8" r="2.5"/>
<circle cx="277.8" cy="413.7" r="2.5"/>
<circle cx="282.0" cy="416.8" r="2.5"/>
<circle cx="286.6" cy="416.8" r="2.5"/>
<circle cx="277.8" cy="418.8" r="2.5"/>
<circle cx="273.6" cy="421.4" r="2.5"/>
<circle cx="282.0" cy="421.9" r="2.5"/>
<circle cx="269.0" cy="424.6" r="2.5"/>
<circle cx="277.8" cy="424.2" r="2.5"/>
<circle cx="286.6" cy="424.6" r="2.5"/>
<circle cx="311.0" cy="303.9" r="2.5"/>
<circle cx="311.0" cy="313.7" r="2.5"/>
<circle cx="311.0" cy="319.7" r="2.5"/>
<circle cx="313.4" cy="325.3" r="2.5"/>
<circle cx="308.7" cy="327.1" r="2.5"/>
<circle cx="311.0" cy="334.5" r="2.5"/>
<circle cx="311.0" cy="345.5" r="2.5"/>
<circle cx="306.8" cy="349.5" r="2.5"/>
<circle cx="311.0" cy="351.6" r="2.5"/>
<circle cx="315.5" cy="354.2" r="2.5"/>
<circle cx="306.8" cy="355.5" r="2.5"/>
<circle cx="308.7" cy="363.2" r="2.5"/>
<circle cx="313.1" cy="366.8" r="2.5"/>
<circle cx="310.9" cy="384.8" r="2.5"/>
<circle cx="302.4" cy="395.4" r="2.5"/>
<circle cx="307.0" cy="393.6" r="2.5"/>
<circle cx="315.2" cy="393.6" r="2.5"/>
<circle cx="319.5" cy="395.4" r="2.5"/>
<circle cx="310.9" cy="397.9" r="2.5"/>
<circle cx="307.0" cy="400.0" r="2.5"/>
<circle cx="302.4" cy="404.6" r="2.5"/>
<circle cx="302.4" cy="410.5" r="2.5"/>
<circle cx="307.0" cy="409.8" r="2.5"/>
<circle cx="310.9" cy="410.5" r="2.5"/>
<circle cx="315.6" cy="413.2" r="2.5"/>
<circle cx="319.5" cy="409.3" r="2.5"/>
<circle cx="307.0" cy="416.3" r="2.5"/>
<circle cx="310.9" cy="417.5" r="2.5"/>
<circle cx="307.0" cy="422.0" r="2.5"/>
<circle cx="315.2" cy="421.2" r="2.5"/>
<line x1="222.30" y1="260.50" x2="222.30" y2="428.30" stroke="#000" stroke-width="1.5"/>
<line x1="215.80" y1="427.60" x2="334.10" y2="427.60" stroke="#000" stroke-width="1.5"/>
<line x1="215.80" y1="427.60" x2="222.30" y2="427.60" stroke="#000" stroke-width="1.5"/>
<text transform="translate(213.60,431.10) scale(1,1.09)" font-size="9" text-anchor="end" font-weight="normal" >0</text>
<line x1="215.80" y1="394.32" x2="222.30" y2="394.32" stroke="#000" stroke-width="1.5"/>
<text transform="translate(213.60,397.82) scale(1,1.09)" font-size="9" text-anchor="end" font-weight="normal" >5</text>
<line x1="215.80" y1="361.04" x2="222.30" y2="361.04" stroke="#000" stroke-width="1.5"/>
<text transform="translate(213.60,364.54) scale(1,1.09)" font-size="9" text-anchor="end" font-weight="normal" >10</text>
<line x1="215.80" y1="327.76" x2="222.30" y2="327.76" stroke="#000" stroke-width="1.5"/>
<text transform="translate(213.60,331.26) scale(1,1.09)" font-size="9" text-anchor="end" font-weight="normal" >15</text>
<line x1="215.80" y1="294.48" x2="222.30" y2="294.48" stroke="#000" stroke-width="1.5"/>
<text transform="translate(213.60,297.98) scale(1,1.09)" font-size="9" text-anchor="end" font-weight="normal" >20</text>
<line x1="215.80" y1="261.20" x2="222.30" y2="261.20" stroke="#000" stroke-width="1.5"/>
<text transform="translate(213.60,264.70) scale(1,1.09)" font-size="9" text-anchor="end" font-weight="normal" >25</text>
<line x1="244.50" y1="427.60" x2="244.50" y2="433.90" stroke="#000" stroke-width="1.5"/>
<text transform="translate(244.50,445.10) scale(1,1.09)" font-size="9.2" text-anchor="middle" font-weight="normal" >HC</text>
<line x1="277.80" y1="427.60" x2="277.80" y2="433.90" stroke="#000" stroke-width="1.5"/>
<text transform="translate(277.80,445.10) scale(1,1.09)" font-size="9.2" text-anchor="middle" font-weight="normal" >FD</text>
<line x1="310.90" y1="427.60" x2="310.90" y2="433.90" stroke="#000" stroke-width="1.5"/>
<text transform="translate(310.90,445.10) scale(1,1.09)" font-size="9.2" text-anchor="middle" font-weight="normal" >FD</text>
<text transform="translate(311.40,455.10) scale(1,1.09)" font-size="9.2" text-anchor="middle" font-weight="normal" >+ PPI</text>
<text x="175.40" y="248.15" font-size="20.6" text-anchor="start" font-weight="bold" >F</text>
<line x1="279.20" y1="253.90" x2="313.80" y2="253.90" stroke="#767676" stroke-width="1.1"/>
<text transform="translate(295.70,247.20) scale(1,1.07)" font-size="9.5" text-anchor="middle" font-weight="bold" >0.030</text>
<text transform="translate(189.2,345.3) rotate(-90)" text-anchor="middle" font-size="11.5">Non-classical monoc.<tspan font-size="9.2"> (% monoc.)</tspan></text>
<line x1="420.35" y1="405.40" x2="420.35" y2="386.00" stroke="#000" stroke-width="1.75"/>
<line x1="417.35" y1="386.90" x2="423.35" y2="386.90" stroke="#000" stroke-width="1.8"/>
<rect x="409.60" y="405.40" width="21.20" height="22.20" fill="rgb(20,0,255)" stroke="#000" stroke-width="1.3"/>
<line x1="453.65" y1="400.40" x2="453.65" y2="369.10" stroke="#000" stroke-width="1.75"/>
<line x1="450.65" y1="370.00" x2="456.65" y2="370.00" stroke="#000" stroke-width="1.8"/>
<rect x="442.90" y="400.40" width="21.20" height="27.20" fill="rgb(163,24,14)" stroke="#000" stroke-width="1.3"/>
<line x1="486.75" y1="391.90" x2="486.75" y2="353.90" stroke="#000" stroke-width="1.75"/>
<line x1="483.75" y1="354.80" x2="489.75" y2="354.80" stroke="#000" stroke-width="1.8"/>
<rect x="476.00" y="391.90" width="21.20" height="35.70" fill="rgb(242,155,160)" stroke="#000" stroke-width="1.3"/>
<circle cx="420.3" cy="355.0" r="2.5"/>
<circle cx="420.3" cy="367.1" r="2.5"/>
<circle cx="420.3" cy="381.3" r="2.5"/>
<circle cx="421.9" cy="391.5" r="2.5"/>
<circle cx="425.6" cy="393.8" r="2.5"/>
<circle cx="418.7" cy="395.2" r="2.5"/>
<circle cx="415.1" cy="402.5" r="2.5"/>
<circle cx="419.3" cy="404.1" r="2.5"/>
<circle cx="429.1" cy="407.1" r="2.5"/>
<circle cx="411.9" cy="409.6" r="2.5"/>
<circle cx="422.1" cy="409.6" r="2.5"/>
<circle cx="426.1" cy="410.4" r="2.5"/>
<circle cx="415.1" cy="412.5" r="2.5"/>
<circle cx="418.7" cy="413.4" r="2.5"/>
<circle cx="422.1" cy="414.8" r="2.5"/>
<circle cx="411.9" cy="418.8" r="2.5"/>
<circle cx="415.8" cy="417.8" r="2.5"/>
<circle cx="418.7" cy="420.1" r="2.5"/>
<circle cx="422.1" cy="422.5" r="2.5"/>
<circle cx="425.6" cy="421.0" r="2.5"/>
<circle cx="429.3" cy="418.8" r="2.5"/>
<circle cx="415.1" cy="424.1" r="2.5"/>
<circle cx="449.6" cy="348.9" r="2.5"/>
<circle cx="453.8" cy="350.5" r="2.5"/>
<circle cx="453.8" cy="369.5" r="2.5"/>
<circle cx="453.8" cy="375.3" r="2.5"/>
<circle cx="453.4" cy="392.3" r="2.5"/>
<circle cx="449.3" cy="400.3" r="2.5"/>
<circle cx="453.4" cy="405.0" r="2.5"/>
<circle cx="457.8" cy="407.9" r="2.5"/>
<circle cx="449.3" cy="412.0" r="2.5"/>
<circle cx="453.4" cy="411.8" r="2.5"/>
<circle cx="444.9" cy="414.0" r="2.5"/>
<circle cx="457.8" cy="414.8" r="2.5"/>
<circle cx="462.2" cy="415.6" r="2.5"/>
<circle cx="449.3" cy="417.0" r="2.5"/>
<circle cx="453.4" cy="420.5" r="2.5"/>
<circle cx="457.8" cy="420.8" r="2.5"/>
<circle cx="449.3" cy="424.4" r="2.5"/>
<circle cx="486.8" cy="278.9" r="2.5"/>
<circle cx="486.8" cy="343.4" r="2.5"/>
<circle cx="482.6" cy="368.5" r="2.5"/>
<circle cx="491.1" cy="368.5" r="2.5"/>
<circle cx="487.0" cy="381.3" r="2.5"/>
<circle cx="487.1" cy="388.8" r="2.5"/>
<circle cx="495.3" cy="395.7" r="2.5"/>
<circle cx="478.5" cy="399.6" r="2.5"/>
<circle cx="487.1" cy="399.1" r="2.5"/>
<circle cx="487.1" cy="408.2" r="2.5"/>
<circle cx="478.5" cy="408.8" r="2.5"/>
<circle cx="495.3" cy="410.5" r="2.5"/>
<circle cx="478.5" cy="414.7" r="2.5"/>
<circle cx="495.3" cy="416.2" r="2.5"/>
<circle cx="487.1" cy="419.0" r="2.5"/>
<circle cx="495.3" cy="423.8" r="2.5"/>
<circle cx="478.5" cy="425.8" r="2.5"/>
<line x1="398.00" y1="260.30" x2="398.00" y2="428.30" stroke="#000" stroke-width="1.5"/>
<line x1="391.50" y1="427.60" x2="509.80" y2="427.60" stroke="#000" stroke-width="1.5"/>
<line x1="391.50" y1="427.60" x2="398.00" y2="427.60" stroke="#000" stroke-width="1.5"/>
<text transform="translate(389.30,431.10) scale(1,1.09)" font-size="9" text-anchor="end" font-weight="normal" >0</text>
<line x1="391.50" y1="394.28" x2="398.00" y2="394.28" stroke="#000" stroke-width="1.5"/>
<text transform="translate(389.30,397.78) scale(1,1.09)" font-size="9" text-anchor="end" font-weight="normal" >10</text>
<line x1="391.50" y1="360.96" x2="398.00" y2="360.96" stroke="#000" stroke-width="1.5"/>
<text transform="translate(389.30,364.46) scale(1,1.09)" font-size="9" text-anchor="end" font-weight="normal" >20</text>
<line x1="391.50" y1="327.64" x2="398.00" y2="327.64" stroke="#000" stroke-width="1.5"/>
<text transform="translate(389.30,331.14) scale(1,1.09)" font-size="9" text-anchor="end" font-weight="normal" >30</text>
<line x1="391.50" y1="294.32" x2="398.00" y2="294.32" stroke="#000" stroke-width="1.5"/>
<text transform="translate(389.30,297.82) scale(1,1.09)" font-size="9" text-anchor="end" font-weight="normal" >40</text>
<line x1="391.50" y1="261.00" x2="398.00" y2="261.00" stroke="#000" stroke-width="1.5"/>
<text transform="translate(389.30,264.50) scale(1,1.09)" font-size="9" text-anchor="end" font-weight="normal" >50</text>
<line x1="420.20" y1="427.60" x2="420.20" y2="433.90" stroke="#000" stroke-width="1.5"/>
<text transform="translate(420.20,445.10) scale(1,1.09)" font-size="9.2" text-anchor="middle" font-weight="normal" >HC</text>
<line x1="453.50" y1="427.60" x2="453.50" y2="433.90" stroke="#000" stroke-width="1.5"/>
<text transform="translate(453.50,445.10) scale(1,1.09)" font-size="9.2" text-anchor="middle" font-weight="normal" >FD</text>
<line x1="486.60" y1="427.60" x2="486.60" y2="433.90" stroke="#000" stroke-width="1.5"/>
<text transform="translate(486.60,445.10) scale(1,1.09)" font-size="9.2" text-anchor="middle" font-weight="normal" >FD</text>
<text transform="translate(487.10,455.10) scale(1,1.09)" font-size="9.2" text-anchor="middle" font-weight="normal" >+ PPI</text>
<text x="348.20" y="248.15" font-size="20.6" text-anchor="start" font-weight="bold" >G</text>
<text transform="translate(365.4,344.75) rotate(-90)" text-anchor="middle" font-size="11.5">Eosinophils<tspan font-size="9.2"> (% granulocytes)</tspan></text>
<line x1="594.45" y1="293.70" x2="594.45" y2="269.10" stroke="#000" stroke-width="1.75"/>
<line x1="591.45" y1="270.00" x2="597.45" y2="270.00" stroke="#000" stroke-width="1.8"/>
<rect x="583.70" y="293.70" width="21.20" height="133.90" fill="rgb(20,0,255)" stroke="#000" stroke-width="1.3"/>
<line x1="627.75" y1="296.80" x2="627.75" y2="273.80" stroke="#000" stroke-width="1.75"/>
<line x1="624.75" y1="274.70" x2="630.75" y2="274.70" stroke="#000" stroke-width="1.8"/>
<rect x="617.00" y="296.80" width="21.20" height="130.80" fill="rgb(163,24,14)" stroke="#000" stroke-width="1.3"/>
<line x1="660.85" y1="294.20" x2="660.85" y2="272.80" stroke="#000" stroke-width="1.75"/>
<line x1="657.85" y1="273.70" x2="663.85" y2="273.70" stroke="#000" stroke-width="1.8"/>
<rect x="650.10" y="294.20" width="21.20" height="133.40" fill="rgb(242,155,160)" stroke="#000" stroke-width="1.3"/>
<circle cx="592.2" cy="268.6" r="2.5"/>
<circle cx="595.9" cy="268.6" r="2.5"/>
<circle cx="599.0" cy="270.0" r="2.5"/>
<circle cx="589.1" cy="273.7" r="2.5"/>
<circle cx="592.5" cy="274.7" r="2.5"/>
<circle cx="595.9" cy="278.7" r="2.5"/>
<circle cx="585.4" cy="283.0" r="2.5"/>
<circle cx="588.5" cy="282.3" r="2.5"/>
<circle cx="592.5" cy="282.3" r="2.5"/>
<circle cx="595.9" cy="283.7" r="2.5"/>
<circle cx="599.6" cy="283.7" r="2.5"/>
<circle cx="603.1" cy="280.8" r="2.5"/>
<circle cx="599.0" cy="288.9" r="2.5"/>
<circle cx="592.5" cy="291.1" r="2.5"/>
<circle cx="595.9" cy="292.6" r="2.5"/>
<circle cx="594.0" cy="304.9" r="2.5"/>
<circle cx="590.4" cy="310.3" r="2.5"/>
<circle cx="597.5" cy="311.8" r="2.5"/>
<circle cx="594.0" cy="315.0" r="2.5"/>
<circle cx="594.0" cy="322.6" r="2.5"/>
<circle cx="594.0" cy="337.4" r="2.5"/>
<circle cx="594.0" cy="345.1" r="2.5"/>
<circle cx="624.5" cy="270.5" r="2.5"/>
<circle cx="624.5" cy="276.0" r="2.5"/>
<circle cx="630.2" cy="275.6" r="2.5"/>
<circle cx="618.6" cy="278.7" r="2.5"/>
<circle cx="636.1" cy="278.7" r="2.5"/>
<circle cx="630.2" cy="284.0" r="2.5"/>
<circle cx="624.5" cy="285.3" r="2.5"/>
<circle cx="618.6" cy="287.9" r="2.5"/>
<circle cx="636.1" cy="287.6" r="2.5"/>
<circle cx="624.5" cy="291.4" r="2.5"/>
<circle cx="630.2" cy="290.5" r="2.5"/>
<circle cx="624.5" cy="311.6" r="2.5"/>
<circle cx="630.2" cy="311.4" r="2.5"/>
<circle cx="630.2" cy="316.8" r="2.5"/>
<circle cx="624.5" cy="319.2" r="2.5"/>
<circle cx="627.0" cy="329.3" r="2.5"/>
<circle cx="627.0" cy="339.5" r="2.5"/>
<circle cx="651.9" cy="272.4" r="2.5"/>
<circle cx="669.3" cy="271.6" r="2.5"/>
<circle cx="657.7" cy="276.6" r="2.5"/>
<circle cx="663.2" cy="274.5" r="2.5"/>
<circle cx="651.9" cy="281.9" r="2.5"/>
<circle cx="663.2" cy="280.5" r="2.5"/>
<circle cx="657.7" cy="285.8" r="2.5"/>
<circle cx="663.2" cy="285.8" r="2.5"/>
<circle cx="651.9" cy="289.5" r="2.5"/>
<circle cx="657.7" cy="291.1" r="2.5"/>
<circle cx="663.2" cy="293.5" r="2.5"/>
<circle cx="651.9" cy="295.3" r="2.5"/>
<circle cx="657.7" cy="297.9" r="2.5"/>
<circle cx="663.2" cy="302.4" r="2.5"/>
<circle cx="657.7" cy="327.2" r="2.5"/>
<circle cx="663.2" cy="330.3" r="2.5"/>
<circle cx="660.6" cy="337.7" r="2.5"/>
<line x1="572.10" y1="260.40" x2="572.10" y2="428.30" stroke="#000" stroke-width="1.5"/>
<line x1="565.60" y1="427.60" x2="683.90" y2="427.60" stroke="#000" stroke-width="1.5"/>
<line x1="565.60" y1="427.60" x2="572.10" y2="427.60" stroke="#000" stroke-width="1.5"/>
<text transform="translate(563.40,431.10) scale(1,1.09)" font-size="9" text-anchor="end" font-weight="normal" >0</text>
<line x1="565.60" y1="394.30" x2="572.10" y2="394.30" stroke="#000" stroke-width="1.5"/>
<text transform="translate(563.40,397.80) scale(1,1.09)" font-size="9" text-anchor="end" font-weight="normal" >20</text>
<line x1="565.60" y1="361.00" x2="572.10" y2="361.00" stroke="#000" stroke-width="1.5"/>
<text transform="translate(563.40,364.50) scale(1,1.09)" font-size="9" text-anchor="end" font-weight="normal" >40</text>
<line x1="565.60" y1="327.70" x2="572.10" y2="327.70" stroke="#000" stroke-width="1.5"/>
<text transform="translate(563.40,331.20) scale(1,1.09)" font-size="9" text-anchor="end" font-weight="normal" >60</text>
<line x1="565.60" y1="294.40" x2="572.10" y2="294.40" stroke="#000" stroke-width="1.5"/>
<text transform="translate(563.40,297.90) scale(1,1.09)" font-size="9" text-anchor="end" font-weight="normal" >80</text>
<line x1="565.60" y1="261.10" x2="572.10" y2="261.10" stroke="#000" stroke-width="1.5"/>
<text transform="translate(563.40,264.60) scale(1,1.09)" font-size="9" text-anchor="end" font-weight="normal" >100</text>
<line x1="594.30" y1="427.60" x2="594.30" y2="433.90" stroke="#000" stroke-width="1.5"/>
<text transform="translate(594.30,445.10) scale(1,1.09)" font-size="9.2" text-anchor="middle" font-weight="normal" >HC</text>
<line x1="627.60" y1="427.60" x2="627.60" y2="433.90" stroke="#000" stroke-width="1.5"/>
<text transform="translate(627.60,445.10) scale(1,1.09)" font-size="9.2" text-anchor="middle" font-weight="normal" >FD</text>
<line x1="660.70" y1="427.60" x2="660.70" y2="433.90" stroke="#000" stroke-width="1.5"/>
<text transform="translate(660.70,445.10) scale(1,1.09)" font-size="9.2" text-anchor="middle" font-weight="normal" >FD</text>
<text transform="translate(661.20,455.10) scale(1,1.09)" font-size="9.2" text-anchor="middle" font-weight="normal" >+ PPI</text>
<text x="522.70" y="248.15" font-size="20.6" text-anchor="start" font-weight="bold" >H</text>
<text transform="translate(532.6,345.5) rotate(-90)" text-anchor="middle" font-size="11.5"><tspan font-size="12.5">α</tspan><tspan font-size="8" dy="2.6">4</tspan><tspan dy="-2.6" font-size="12.5">β</tspan><tspan font-size="8" dy="2.6">7</tspan><tspan font-size="8" dx="0.6" dy="-7.6">+</tspan><tspan dy="5"> </tspan>eosinophils<tspan font-size="9.2"> (% eosinophils)</tspan></text>
</svg></body></html>
